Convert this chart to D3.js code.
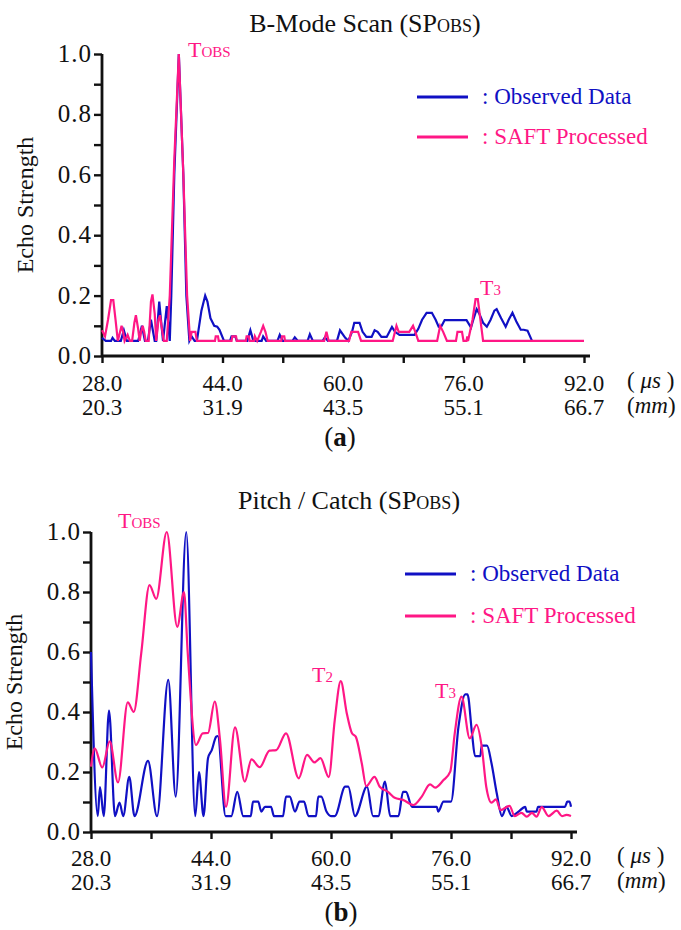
<!DOCTYPE html>
<html>
<head>
<meta charset="utf-8">
<script src="https://cdn.jsdelivr.net/npm/d3@7"></script>
<style>
  body { margin: 0; background: #fff; }
</style>
</head>
<body>
<div data-id="chart"></div>
<script>
// time axis (us) and matching depth labels (mm)
const timeTicks = [28, 44, 60, 76, 92];
const minorTimeTicks = [36, 52, 68, 84];
const depthLabels = ["20.3", "31.9", "43.5", "55.1", "66.7"];
const strengthTicks = [0, 0.2, 0.4, 0.6, 0.8, 1.0];

// (a) B-Mode scan - observed data
const bModeObsT = [28.0, 28.5, 29.2, 29.4, 29.7, 30.5, 30.9, 31.3, 32.8, 33.3, 33.7, 34.1, 34.5, 35.0, 35.2, 35.6, 36.1, 36.6, 37.0,
  37.2, 37.6, 38.2, 38.8, 39.2, 39.6, 39.9, 40.3, 40.6, 41.2, 41.7, 42.0, 42.4, 42.9, 43.3, 43.6, 44.2, 45.0, 45.2, 45.7, 45.9,
  47.3, 47.7, 48.1, 49.2, 49.4, 49.8, 51.3, 51.6, 52.0, 53.3, 53.6, 54.0, 55.3, 55.6, 56.0, 57.3, 57.6, 58.0, 59.2, 59.6,
  60.3, 60.7, 61.2, 61.5, 62.2, 62.6, 63.1, 63.8, 64.2, 64.6, 65.1, 65.8, 66.5, 66.9, 67.5, 69.5, 70.0, 70.5, 71.1, 71.8,
  72.3, 72.7, 73.1, 73.5, 76.4, 77.0, 77.3, 77.75, 78.1, 78.6, 79.1, 79.6, 80.1, 80.4, 81.0, 81.6, 82.0, 82.5, 83.0, 83.6,
  84.0, 84.5, 85.1];
const bModeObsV = [0.06, 0.05, 0.05, 0.06, 0.05, 0.05, 0.085, 0.05, 0.05, 0.10, 0.05, 0.05, 0.12, 0.05, 0.05, 0.18, 0.05, 0.165, 0.05,
  0.2, 0.6, 1.0, 0.6, 0.2, 0.05, 0.065, 0.05, 0.05, 0.15, 0.2, 0.18, 0.125, 0.10, 0.097, 0.087, 0.05, 0.05, 0.065, 0.065, 0.05,
  0.05, 0.085, 0.05, 0.05, 0.065, 0.05, 0.05, 0.07, 0.05, 0.05, 0.062, 0.05, 0.05, 0.072, 0.05, 0.05, 0.062, 0.05, 0.05, 0.085,
  0.06, 0.05, 0.08, 0.11, 0.11, 0.08, 0.063, 0.063, 0.085, 0.08, 0.063, 0.063, 0.096, 0.08, 0.07, 0.07, 0.09, 0.12, 0.143, 0.143,
  0.12, 0.097, 0.10, 0.119, 0.119, 0.094, 0.12, 0.155, 0.14, 0.11, 0.097, 0.12, 0.15, 0.155, 0.125, 0.097, 0.12, 0.143, 0.115, 0.087,
  0.087, 0.084, 0.05];

// (a) B-Mode scan - SAFT processed
const bModeSaftT = [28.0, 28.4, 28.8, 29.2, 29.5, 29.8, 30.1, 30.4, 30.6, 30.8, 31.0, 31.4, 31.7, 32.0, 32.3, 32.5, 32.8, 33.0,
  33.2, 33.4, 33.6, 33.8, 34.2, 34.5, 34.7, 35.0, 35.2, 35.5, 35.7, 35.9, 36.2, 36.6, 37.0, 37.6, 38.2, 38.8, 39.3, 39.7,
  39.9, 40.4, 40.6, 43.0, 43.1, 43.4, 43.5, 45.2, 45.3, 45.8, 45.9, 47.1, 47.2, 47.5, 47.6, 48.2, 48.3, 48.6, 49.1, 49.4,
  49.7, 50.0, 51.8, 51.9, 52.2, 52.3, 57.5, 57.8, 58.1, 60.8, 61.1, 62.0, 62.4, 66.6, 67.1, 67.4, 68.8, 69.3, 69.6, 70.0,
  72.5, 72.9, 73.3, 73.8, 75.0, 75.2, 75.8, 76.0, 76.4, 76.5, 76.6, 77.2, 77.6, 77.9, 78.6, 92.0];
const bModeSaftV = [0.085, 0.065, 0.12, 0.185, 0.185, 0.12, 0.05, 0.08, 0.10, 0.08, 0.05, 0.07, 0.05, 0.05, 0.11, 0.135, 0.09, 0.05,
  0.08, 0.10, 0.08, 0.05, 0.05, 0.18, 0.204, 0.14, 0.05, 0.12, 0.135, 0.10, 0.05, 0.05, 0.2, 0.65, 1.0, 0.6, 0.2, 0.05,
  0.08, 0.08, 0.05, 0.05, 0.065, 0.065, 0.05, 0.05, 0.065, 0.065, 0.05, 0.05, 0.065, 0.065, 0.05, 0.05, 0.065, 0.05, 0.08, 0.10,
  0.08, 0.05, 0.05, 0.065, 0.065, 0.05, 0.05, 0.08, 0.05, 0.05, 0.08, 0.08, 0.05, 0.05, 0.10, 0.08, 0.08, 0.10, 0.08, 0.05,
  0.05, 0.10, 0.08, 0.05, 0.05, 0.08, 0.08, 0.05, 0.05, 0.065, 0.05, 0.12, 0.188, 0.188, 0.05, 0.05];

// (b) Pitch / Catch - observed data
const pitchObsT = [28.0, 28.9, 29.2, 29.7, 30.4, 31.2, 31.8, 32.3, 33.1, 33.8, 35.6, 36.8, 38.3, 39.3, 40.7, 41.9, 42.4, 43.0,
  43.6, 44.1, 44.7, 44.9, 45.95, 46.7, 47.5, 48.3, 49.3, 49.6, 50.3, 50.7, 51.2, 52.0, 52.4, 53.6, 54.0, 54.5, 55.2, 55.8,
  56.4, 57.0, 58.0, 58.3, 58.7, 59.4, 60.0, 60.5, 61.9, 62.3, 63.2, 64.8, 65.6, 66.3, 67.2, 67.9, 69.0, 69.6, 70.0, 70.8,
  71.4, 74.1, 74.3, 75.0, 76.0, 77.0, 77.9, 78.2, 78.8, 79.2, 79.9, 80.1, 80.8, 81.4, 82.1, 82.8, 83.4, 84.1, 85.0, 85.9,
  86.1, 87.4, 87.6, 91.2, 91.5, 91.8, 92.0];
const pitchObsV = [0.60, 0.053, 0.15, 0.053, 0.405, 0.053, 0.098, 0.053, 0.184, 0.053, 0.237, 0.053, 0.507, 0.118, 1.0, 0.053, 0.20, 0.053,
  0.246, 0.273, 0.318, 0.32, 0.053, 0.053, 0.134, 0.053, 0.053, 0.101, 0.101, 0.068, 0.084, 0.084, 0.053, 0.053, 0.118, 0.118, 0.068, 0.101,
  0.101, 0.053, 0.053, 0.118, 0.118, 0.068, 0.053, 0.053, 0.151, 0.151, 0.053, 0.151, 0.053, 0.053, 0.168, 0.053, 0.053, 0.134, 0.134, 0.084,
  0.084, 0.084, 0.068, 0.101, 0.101, 0.351, 0.459, 0.459, 0.329, 0.253, 0.253, 0.288, 0.288, 0.229, 0.129, 0.053, 0.084, 0.053, 0.068, 0.084,
  0.068, 0.068, 0.084, 0.084, 0.101, 0.101, 0.084];

// (b) Pitch / Catch - SAFT processed
const pitchSaftT = [28.0, 28.5, 29.5, 30.5, 31.6, 32.9, 33.7, 34.7, 35.8, 36.7, 38.1, 39.5, 40.4, 40.9, 42.0, 42.9, 43.6, 44.5,
  45.2, 46.0, 47.2, 48.5, 49.4, 50.5, 51.8, 52.7, 54.0, 55.7, 56.8, 57.8, 58.6, 59.7, 60.5, 61.3, 62.1, 62.8, 63.3, 64.1,
  64.7, 65.8, 66.5, 67.6, 68.5, 69.6, 71.0, 72.1, 73.2, 73.9, 75.0, 75.9, 76.5, 77.4, 78.5, 79.4, 80.1, 80.7, 81.4, 82.0,
  82.6, 83.8, 84.5, 85.4, 86.1, 86.8, 87.4, 88.1, 89.0, 90.1, 90.8, 91.4, 92.0];
const pitchSaftV = [0.218, 0.279, 0.215, 0.302, 0.165, 0.432, 0.40, 0.596, 0.823, 0.777, 1.0, 0.684, 0.80, 0.596, 0.29, 0.329, 0.33, 0.435,
  0.307, 0.084, 0.349, 0.168, 0.242, 0.216, 0.271, 0.273, 0.329, 0.179, 0.257, 0.232, 0.246, 0.183, 0.373, 0.503, 0.396, 0.329, 0.318, 0.229,
  0.153, 0.184, 0.151, 0.134, 0.114, 0.107, 0.09, 0.118, 0.159, 0.148, 0.173, 0.201, 0.329, 0.451, 0.312, 0.357, 0.284, 0.151, 0.098, 0.109,
  0.073, 0.087, 0.053, 0.064, 0.051, 0.064, 0.051, 0.083, 0.053, 0.071, 0.053, 0.057, 0.053];

const blue = "#1010c4", pink = "#ff1785", ink = "#111";
const serif = '"Liberation Serif", "Times New Roman", Times, "DejaVu Serif", serif';

const svg = d3.select('[data-id="chart"]').append("svg")
  .attr("width", 681).attr("height", 930)
  .attr("font-family", serif);

function zip(ts, vs) { return ts.map((t, i) => ({ t: t, v: vs[i] })); }

// every text node gets the serif face inline so axis defaults don't win
function txt(sel) {
  return sel.append("text").style("font-family", serif);
}

function drawPanel(p) {
  const x = d3.scaleLinear().domain([28, 92]).range([p.left, p.right]);
  const y = d3.scaleLinear().domain([0, 1]).range([p.bottom, p.top]);
  const g = svg.append("g");

  // title
  const title = txt(g)
    .attr("x", p.titleX).attr("y", p.titleY)
    .attr("text-anchor", "middle").attr("font-size", 26).attr("fill", ink);
  title.append("tspan").text(p.title + " (SP");
  title.append("tspan").attr("font-size", 18).text("OBS");
  title.append("tspan").text(")");

  // y axis (ticks every 0.1, labels every 0.2)
  const yAxis = d3.axisLeft(y)
    .tickValues(d3.range(0, 11).map(i => i / 10))
    .tickFormat("")
    .tickSize(8).tickSizeOuter(0);
  const ya = g.append("g")
    .attr("transform", "translate(" + p.left + ",0)")
    .call(yAxis);
  ya.select(".domain").remove();
  ya.selectAll("line").attr("stroke", ink).attr("stroke-width", 2.4);
  g.selectAll(".ylab").data(strengthTicks).enter().append("text")
    .attr("class", "ylab").style("font-family", serif)
    .attr("x", p.left - 10).attr("y", d => y(d) + 8)
    .attr("text-anchor", "end").attr("font-size", 25).attr("fill", ink)
    .attr("letter-spacing", 1)
    .text(d => d.toFixed(1));

  // x axis
  const xAxis = d3.axisBottom(x)
    .tickValues(timeTicks.concat(minorTimeTicks))
    .tickFormat("")
    .tickSize(7).tickSizeOuter(0);
  const xa = g.append("g")
    .attr("transform", "translate(0," + p.bottom + ")")
    .call(xAxis);
  xa.select(".domain").remove();
  xa.selectAll("line").attr("stroke", ink).attr("stroke-width", 2.4);

  // axis lines
  g.append("line").attr("x1", p.left).attr("x2", p.left)
    .attr("y1", y(1)).attr("y2", p.bottom)
    .attr("stroke", ink).attr("stroke-width", 2.8);
  g.append("line").attr("x1", p.left).attr("x2", x(92) + 6)
    .attr("y1", p.bottom).attr("y2", p.bottom)
    .attr("stroke", ink).attr("stroke-width", 2.8);

  // first row: time in us, second row: depth in mm
  g.selectAll(".us").data(timeTicks).enter().append("text")
    .attr("class", "us").style("font-family", serif)
    .attr("x", d => x(d)).attr("y", p.usY)
    .attr("text-anchor", "middle").attr("font-size", 23).attr("fill", ink)
    .text(d => d.toFixed(1));
  g.selectAll(".mm").data(timeTicks).enter().append("text")
    .attr("class", "mm").style("font-family", serif)
    .attr("x", d => x(d)).attr("y", p.mmY)
    .attr("text-anchor", "middle").attr("font-size", 23).attr("fill", ink)
    .text((d, i) => depthLabels[i]);

  // unit labels
  const u1 = txt(g).attr("x", p.unitX).attr("y", p.usY - 3)
    .attr("font-size", 23).attr("fill", ink);
  u1.append("tspan").text("( ");
  u1.append("tspan").attr("font-style", "italic").text("\u03bcs");
  u1.append("tspan").text(" )");
  const u2 = txt(g).attr("x", p.unitX).attr("y", p.mmY - 2)
    .attr("font-size", 23).attr("fill", ink);
  u2.append("tspan").text("(");
  u2.append("tspan").attr("font-style", "italic").text("mm");
  u2.append("tspan").text(")");

  // y label
  txt(g)
    .attr("transform", "translate(" + p.ylabX + "," + (p.bottom + p.top) / 2 + ") rotate(-90)")
    .attr("text-anchor", "middle").attr("font-size", 24).attr("fill", ink)
    .text("Echo Strength");

  // series
  const line = d3.line().x(d => x(d.t)).y(d => y(d.v)).curve(p.curve);
  g.append("path").datum(zip(p.obsT, p.obsV))
    .attr("d", line).attr("fill", "none").attr("stroke", blue).attr("stroke-width", 2.2);
  g.append("path").datum(zip(p.saftT, p.saftV))
    .attr("d", line).attr("fill", "none").attr("stroke", pink).attr("stroke-width", 2.2);

  // peak labels
  p.marks.forEach(m => {
    const t = txt(g).attr("x", m.x).attr("y", m.y)
      .attr("font-size", 22).attr("fill", pink);
    t.append("tspan").text("T");
    t.append("tspan").attr("font-size", 15).text(m.sub);
  });

  // legend
  const leg = [{ label: ": Observed Data", color: blue }, { label: ": SAFT Processed", color: pink }];
  leg.forEach((l, i) => {
    const ly = p.legY + i * p.legGap;
    g.append("line").attr("x1", p.legX).attr("x2", p.legX + 51)
      .attr("y1", ly).attr("y2", ly)
      .attr("stroke", l.color).attr("stroke-width", 3.2);
    txt(g).attr("x", p.legX + 65).attr("y", ly + 7)
      .attr("font-size", 23).attr("fill", l.color).text(l.label);
  });

  // panel tag
  const tag = txt(g).attr("x", p.tagX).attr("y", p.tagY)
    .attr("text-anchor", "middle").attr("font-size", 27).attr("fill", ink);
  tag.append("tspan").text("(");
  tag.append("tspan").attr("font-weight", "bold").text(p.tag);
  tag.append("tspan").text(")");
}

drawPanel({
  title: "B-Mode Scan", titleX: 365, titleY: 32,
  left: 102, right: 584, top: 54, bottom: 356,
  usY: 391, mmY: 415, unitX: 627, ylabX: 33,
  obsT: bModeObsT, obsV: bModeObsV, saftT: bModeSaftT, saftV: bModeSaftV,
  curve: d3.curveLinear,
  marks: [{ x: 188, y: 57, sub: "OBS" }, { x: 480, y: 295, sub: "3" }],
  legX: 417, legY: 97, legGap: 40,
  tag: "a", tagX: 340, tagY: 446
});

drawPanel({
  title: "Pitch / Catch", titleX: 349, titleY: 509,
  left: 91, right: 571, top: 532, bottom: 832,
  usY: 866, mmY: 890, unitX: 617, ylabX: 22,
  obsT: pitchObsT, obsV: pitchObsV, saftT: pitchSaftT, saftV: pitchSaftV,
  curve: d3.curveMonotoneX,
  marks: [{ x: 118, y: 528, sub: "OBS" }, { x: 312, y: 682, sub: "2" }, { x: 435, y: 698, sub: "3" }],
  legX: 405, legY: 574, legGap: 42,
  tag: "b", tagX: 341, tagY: 921
});
</script>
</body>
</html>
